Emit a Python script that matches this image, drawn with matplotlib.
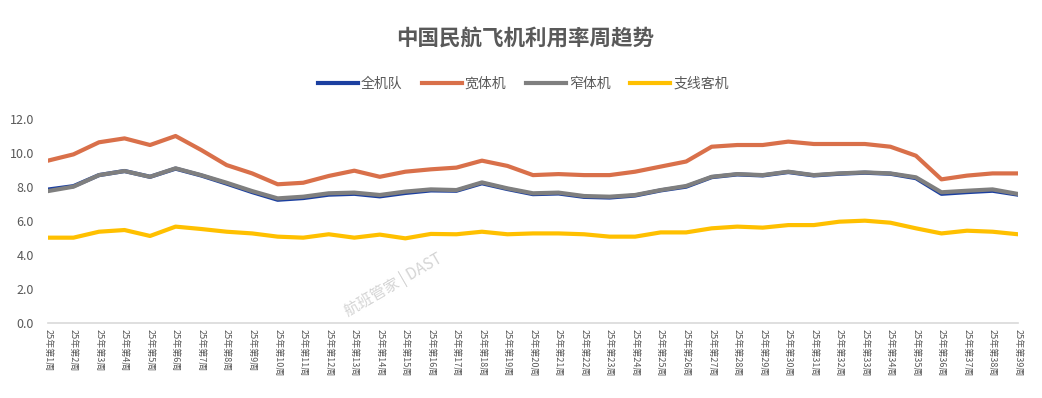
import matplotlib
matplotlib.use('Agg')
import numpy as np
import matplotlib.pyplot as plt

plt.rcParams['font.family'] = ['Noto Sans CJK SC', 'DejaVu Sans']

# DATA

weeks = [f'25年第{i}周' for i in range(1, 40)]

fleet_all = [7.85, 8.05, 8.70, 8.94, 8.60, 9.08, 8.68, 8.20, 7.70, 7.25,
             7.35, 7.55, 7.60, 7.45, 7.65, 7.80, 7.78, 8.22, 7.88, 7.58,
             7.62, 7.42, 7.38, 7.50, 7.80, 8.02, 8.58, 8.74, 8.68, 8.88,
             8.68, 8.78, 8.84, 8.78, 8.52, 7.60, 7.70, 7.78, 7.55]
wide_body = [9.55, 9.92, 10.63, 10.86, 10.47, 11.00, 10.18, 9.29, 8.80, 8.16,
             8.25, 8.65, 8.96, 8.60, 8.90, 9.04, 9.14, 9.55, 9.24, 8.70,
             8.76, 8.70, 8.70, 8.90, 9.20, 9.50, 10.37, 10.47, 10.47, 10.67,
             10.53, 10.53, 10.53, 10.37, 9.84, 8.45, 8.67, 8.80, 8.80]
narrow_body = [7.76, 8.02, 8.70, 8.94, 8.60, 9.10, 8.70, 8.25, 7.76, 7.33,
               7.43, 7.63, 7.67, 7.53, 7.73, 7.86, 7.82, 8.27, 7.92, 7.63,
               7.67, 7.47, 7.43, 7.53, 7.82, 8.06, 8.60, 8.76, 8.70, 8.90,
               8.70, 8.80, 8.86, 8.80, 8.57, 7.69, 7.78, 7.86, 7.59]
regional = [5.02, 5.02, 5.37, 5.47, 5.12, 5.67, 5.53, 5.37, 5.27, 5.08,
            5.02, 5.22, 5.02, 5.20, 4.98, 5.24, 5.22, 5.37, 5.22, 5.27,
            5.27, 5.22, 5.08, 5.08, 5.33, 5.33, 5.57, 5.67, 5.61, 5.76,
            5.76, 5.96, 6.02, 5.90, 5.57, 5.27, 5.43, 5.37, 5.22]

series_names = ['全机队', '宽体机', '窄体机', '支线客机']
colors = ['#1b3fa0', '#d9704a', '#7f7f7f', '#ffc000']
text_grey = '#595959'

# FIGURE

fig = plt.figure(figsize=(10.42, 3.98), dpi=100)
ax = fig.add_axes([0.046, 0.1884, 0.931, 0.5126])

x = np.arange(len(weeks))
for vals, name, color in zip([fleet_all, wide_body, narrow_body, regional], series_names, colors):
    ax.plot(x, vals, color=color, lw=3, label=name, solid_joinstyle='round')

ax.set_xlim(0, len(weeks) - 1)
ax.set_ylim(0, 12)
yt = np.arange(0, 12.1, 2)
ax.set_yticks(yt)
ax.set_yticklabels([f'{v:.1f}' for v in yt], fontsize=9, color=text_grey)
ax.set_xticks(x)
ax.set_xticklabels(weeks, rotation=270, fontsize=6.5, color=text_grey)
ax.tick_params(axis='both', length=0)
ax.tick_params(axis='y', pad=10)
ax.tick_params(axis='x', pad=4)

for side in ['top', 'right', 'left']:
    ax.spines[side].set_visible(False)
ax.spines['bottom'].set_color('#d9d9d9')
ax.spines['bottom'].set_linewidth(1.2)

fig.text(0.504, 0.905, '中国民航飞机利用率周趋势', ha='center', va='center',
         fontsize=15.5, fontweight='heavy', color=text_grey)

fig.legend(loc='center', bbox_to_anchor=(0.502, 0.789), ncol=4, frameon=False,
           fontsize=10, handlelength=2.9, handletextpad=0.2, columnspacing=1.4,
           labelcolor=text_grey)

# watermark
fig.text(0.377, 0.285, '航班管家 | DAST', ha='center', va='center', rotation=30,
         fontsize=11, color='#d4d4d4')

fig.savefig('out.png', dpi=100)
